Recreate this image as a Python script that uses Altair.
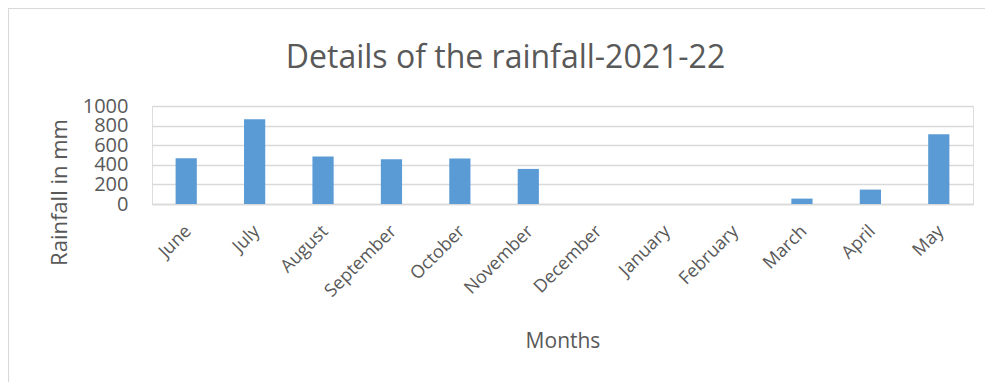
import altair as alt
import pandas as pd

months = ["June", "July", "August", "September", "October", "November",
          "December", "January", "February", "March", "April", "May"]
rainfall = [467, 866, 484, 457, 464, 358, 0, 0, 0, 55, 147, 713]
y_ticks = [0, 200, 400, 600, 800, 1000]

df = pd.DataFrame({"Month": months, "Rainfall": rainfall})

FONT = "Open Sans"
TXT = "#595959"
GRID = "#d9d9d9"

W, H = 821, 98
PAD = {"left": 144, "top": 98, "right": 12, "bottom": 178}

border = alt.Chart(pd.DataFrame({"k": [0]})).mark_rect(
    filled=False, stroke=GRID, strokeWidth=1.2
).encode(
    x=alt.value(-PAD["left"] + 0.5),
    x2=alt.value(W + PAD["right"] + 40),
    y=alt.value(-PAD["top"] + 0.5),
    y2=alt.value(H + PAD["bottom"] + 40),
)

bars = alt.Chart(df).mark_bar(color="#5b9bd5").encode(
    x=alt.X(
        "Month:N",
        sort=months,
        scale=alt.Scale(paddingInner=0.69, paddingOuter=0.345),
        axis=alt.Axis(
            title="Months",
            labelAngle=-45,
            labelAlign="right",
            labelBaseline="top",
            labelPadding=18,
            labelOffset=-4,
            labelFont=FONT,
            labelFontSize=18,
            labelColor=TXT,
            ticks=False,
            domain=True,
            domainColor=GRID,
            domainWidth=1.3,
            titleFont=FONT,
            titleFontSize=21,
            titleFontWeight="normal",
            titleColor=TXT,
            titleY=126,
            titleBaseline="top",
        ),
    ),
    y=alt.Y(
        "Rainfall:Q",
        scale=alt.Scale(domain=[0, 1000]),
        axis=alt.Axis(
            title="Rainfall in mm",
            values=y_ticks,
            format="d",
            labelOverlap=False,
            labelFont=FONT,
            labelFontSize=20,
            labelColor=TXT,
            labelPadding=24,
            labelBaseline="middle",
            ticks=False,
            domain=False,
            grid=True,
            gridColor=GRID,
            gridWidth=1.3,
            titleFont=FONT,
            titleFontSize=22,
            titleFontWeight="normal",
            titleColor=TXT,
            titleAngle=270,
            titleX=-86,
            titleY=86,
            titleBaseline="alphabetic",
            titleAlign="center",
        ),
    ),
)

chart = alt.layer(border, bars).properties(
    width=W,
    height=H,
    padding=PAD,
    autosize=alt.AutoSizeParams(type="none"),
    title=alt.TitleParams(
        "Details of the rainfall-2021-22",
        font=FONT,
        fontSize=32,
        fontWeight="normal",
        color=TXT,
        anchor="middle",
        baseline="alphabetic",
        dx=-57,
        dy=92,
        offset=0,
    ),
).configure_view(stroke=None).configure(background="white")

chart.save("out.html", embed_options={"renderer": "svg", "actions": False})
